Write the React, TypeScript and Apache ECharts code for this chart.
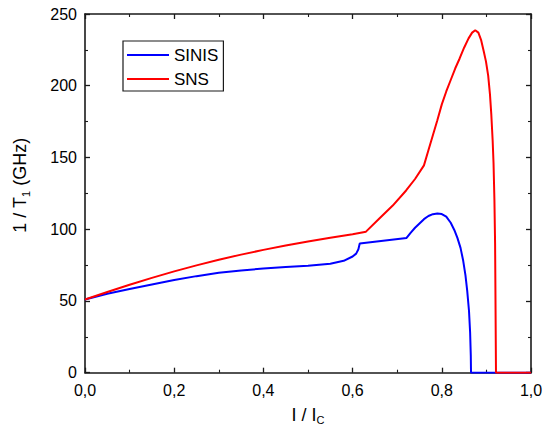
import React, { useEffect, useRef } from "react";
import * as echarts from "echarts";

const xTicks = [0, 0.2, 0.4, 0.6, 0.8, 1.0];
const yTicks = [0, 50, 100, 150, 200, 250];

const sinisX = [0, 0.05, 0.1, 0.15, 0.2, 0.25, 0.3, 0.35, 0.4, 0.45, 0.5, 0.55, 0.58, 0.6, 0.608, 0.613, 0.616, 0.721, 0.73, 0.74, 0.75, 0.76, 0.77, 0.78, 0.79, 0.8, 0.81, 0.82, 0.828, 0.835, 0.842, 0.848, 0.853, 0.857, 0.861, 0.8635, 0.865, 0.8655, 1.0];
const sinisY = [51, 55, 58.3, 61.5, 64.6, 67.3, 69.6, 71.3, 72.6, 73.6, 74.5, 76, 78, 81, 83, 86, 90, 93.9, 97.5, 101, 104, 107, 109.2, 110.5, 111, 110.6, 108.8, 104.5, 99.5, 94, 87, 78, 68, 57, 43, 28, 12, 0, 0];

const snsX = [0, 0.05, 0.1, 0.15, 0.2, 0.25, 0.3, 0.35, 0.4, 0.45, 0.5, 0.55, 0.6, 0.63, 0.66, 0.69, 0.72, 0.74, 0.76, 0.77, 0.78, 0.79, 0.8, 0.81, 0.82, 0.83, 0.84, 0.85, 0.86, 0.868, 0.875, 0.882, 0.888, 0.894, 0.899, 0.904, 0.908, 0.911, 0.914, 0.916, 0.918, 0.9195, 0.9205, 0.9215, 1.0];
const snsY = [51, 56.2, 61.3, 66.1, 70.6, 74.8, 78.7, 82.3, 85.6, 88.6, 91.4, 94, 96.5, 98.3, 107.5, 116.5, 127, 135, 144.5, 155, 165.5, 176, 187, 196, 204, 212, 219, 226.5, 233, 237, 238.7, 237, 232, 224, 217, 207, 194, 180, 162, 146, 120, 90, 45, 0, 0];

const seriesNames = ["SINIS", "SNS"];

const AXIS_COLOR = "#1a1a1a";
const FONT = "'Liberation Sans', Arial, sans-serif";

function zip(xs: number[], ys: number[]) {
  return xs.map((x, i) => [x, ys[i]]);
}

export default function App() {
  const ref = useRef<HTMLDivElement>(null);
  useEffect(() => {
    if (!ref.current) return;
    const chart = echarts.init(ref.current, null, { renderer: "svg" });
    const lineAxis = { show: true, onZero: false, lineStyle: { color: AXIS_COLOR, width: 1.6 } };
    const tick = { show: true, inside: true, length: 5, lineStyle: { color: AXIS_COLOR, width: 1.3 } };
    const minor = { show: true, splitNumber: 2, length: 3, lineStyle: { color: AXIS_COLOR, width: 1.1 } };
    const xBase = {
      type: "value" as const,
      min: xTicks[0],
      max: xTicks[xTicks.length - 1],
      interval: xTicks[1] - xTicks[0],
      axisLine: lineAxis,
      axisTick: tick,
      minorTick: minor,
      splitLine: { show: false },
    };
    const yBase = {
      type: "value" as const,
      min: yTicks[0],
      max: yTicks[yTicks.length - 1],
      interval: yTicks[1] - yTicks[0],
      axisLine: lineAxis,
      axisTick: tick,
      minorTick: minor,
      splitLine: { show: false },
    };
    const subStyle = { fontSize: 11, lineHeight: 11, verticalAlign: "bottom", color: "#000", fontFamily: FONT };
    chart.setOption({
      animation: false,
      backgroundColor: "#fff",
      textStyle: { fontFamily: FONT },
      grid: { left: 85, right: 15, top: 14, bottom: 52.3, containLabel: false, outerBoundsMode: "none" },
      legend: {
        left: 123,
        top: 41,
        orient: "vertical",
        data: seriesNames,
        borderColor: AXIS_COLOR,
        borderWidth: 1.2,
        borderRadius: 0,
        backgroundColor: "#fff",
        padding: [5, 5, 3, 3],
        itemWidth: 42,
        itemHeight: 14,
        itemGap: 6,
        itemStyle: { opacity: 0 },
        lineStyle: { width: 2 },
        textStyle: { fontSize: 17, color: "#000", fontFamily: FONT, lineHeight: 18 },
      },
      xAxis: [
        {
          ...xBase,
          position: "bottom",
          axisLabel: {
            show: true,
            fontSize: 16,
            color: "#000",
            fontFamily: FONT,
            margin: 10,
            formatter: (v: number) => v.toFixed(1).replace(".", ","),
          },
          name: "I / I{sub|C}",
          nameLocation: "middle",
          nameGap: 30,
          nameTextStyle: {
            fontSize: 18,
            color: "#000",
            fontFamily: FONT,
            lineHeight: 22,
            rich: { sub: subStyle },
          },
        },
        { ...xBase, position: "top", axisLabel: { show: false } },
      ],
      yAxis: [
        {
          ...yBase,
          position: "left",
          axisLabel: { show: true, fontSize: 16, color: "#000", fontFamily: FONT, margin: 8 },
          name: "1 / T{sub|1} (GHz)",
          nameLocation: "middle",
          nameGap: 54,
          nameRotate: 90,
          nameTextStyle: {
            fontSize: 18,
            color: "#000",
            fontFamily: FONT,
            lineHeight: 22,
            padding: [0, 0, 0, 16],
            rich: { sub: subStyle },
          },
        },
        { ...yBase, position: "right", axisLabel: { show: false } },
      ],
      series: [
        {
          name: seriesNames[0],
          type: "line",
          data: zip(sinisX, sinisY),
          symbol: "none",
          smooth: false,
          lineStyle: { color: "#0000ff", width: 2 },
          itemStyle: { color: "#0000ff" },
          z: 2,
        },
        {
          name: seriesNames[1],
          type: "line",
          data: zip(snsX, snsY),
          symbol: "none",
          smooth: false,
          lineStyle: { color: "#ff0000", width: 2 },
          itemStyle: { color: "#ff0000" },
          z: 3,
        },
      ],
    });
    return () => chart.dispose();
  }, []);
  return <div ref={ref} style={{ position: "absolute", left: 0, top: 0, width: 546, height: 425 }} />;
}
